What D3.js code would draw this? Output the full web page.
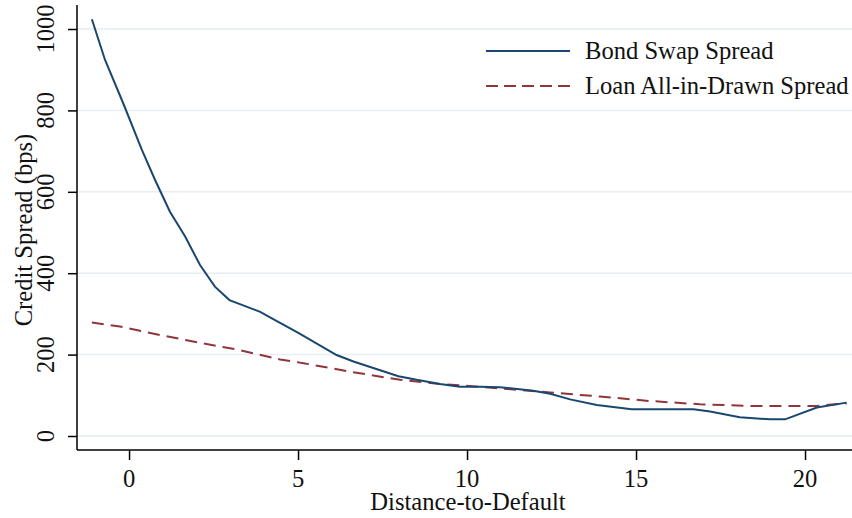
<!DOCTYPE html>
<html>
<head>
<meta charset="utf-8">
<script src="https://cdn.jsdelivr.net/npm/d3@7"></script>
<style>
  body { margin: 0; background: #fff; }
  svg text { font-family: "Liberation Serif", "Times New Roman", serif; fill: #111; }
</style>
</head>
<body>
<svg id="chart" width="852" height="518"></svg>
<script>
// values
var bondX = [-1.10, -0.71, -0.17, 0.38, 0.77, 1.21, 1.66, 2.10, 2.54, 2.97, 3.88, 4.32, 4.86, 5.06, 6.14, 6.64, 7.97, 8.51, 9.20, 9.79, 10.38, 10.97, 11.96, 12.46, 13.05, 13.84, 14.87, 16.70, 17.19, 18.07, 18.96, 19.41, 20.35, 21.23]
var bondY = [1024, 924, 817, 703, 629, 551, 490, 420, 367, 334, 305, 285, 260, 251, 199, 183, 147, 138, 128, 121, 121, 120, 111, 104, 90, 76, 66, 66, 60, 46, 41, 41, 70, 82]

var loanX = [-1.10, -0.27, 0.92, 2.10, 3.28, 4.47, 5.16, 6.54, 8.02, 9.20, 10.38, 12.46, 13.93, 15.41, 16.89, 18.37, 20.33, 21.23]
var loanY = [279, 269, 248, 229, 211, 188, 179, 158, 138, 128, 121, 107, 97, 86, 78, 74, 74, 80]

var xTicks = [0, 5, 10, 15, 20]
var yTicks = [0, 200, 400, 600, 800, 1000]
var seriesNames = ['Bond Swap Spread', 'Loan All-in-Drawn Spread']
var seriesColors = ['#1a476f', '#90353b']

var svg = d3.select('#chart')
var plotLeft = 77, plotRight = 852, plotTop = 5, plotBottom = 450
var fs = 24.6

var x = d3.scaleLinear().domain([-1.54, 21.39]).range([plotLeft, plotRight])
var y = d3.scaleLinear().domain([-34.4, 1059]).range([plotBottom, plotTop])

// gridlines
svg.append('g')
  .selectAll('line')
  .data(yTicks)
  .enter()
  .append('line')
  .attr('x1', plotLeft)
  .attr('x2', plotRight)
  .attr('y1', d => y(d))
  .attr('y2', d => y(d))
  .attr('stroke', '#e6eef1')
  .attr('stroke-width', 1.5)

// y axis
var yAxis = svg.append('g')
  .attr('transform', 'translate(' + plotLeft + ',0)')
  .call(d3.axisLeft(y).tickValues(yTicks).tickSize(9).tickFormat(''))
yAxis.selectAll('path, line').attr('stroke', '#000').attr('stroke-width', 1.5)
yAxis.select('.domain').attr('d', 'M0,' + plotTop + 'V' + plotBottom)

svg.append('g')
  .selectAll('text')
  .data(yTicks)
  .enter()
  .append('text')
  .attr('transform', d => 'translate(54,' + y(d) + ') rotate(-90)')
  .attr('text-anchor', 'middle')
  .style('font-size', fs + 'px')
  .text(d => d)

// x axis
var xAxis = svg.append('g')
  .attr('transform', 'translate(0,' + plotBottom + ')')
  .call(d3.axisBottom(x).tickValues(xTicks).tickSize(10).tickFormat(''))
xAxis.selectAll('path, line').attr('stroke', '#000').attr('stroke-width', 1.5)
xAxis.select('.domain').attr('d', 'M' + plotLeft + ',0H' + plotRight)

svg.append('g')
  .selectAll('text')
  .data(xTicks)
  .enter()
  .append('text')
  .attr('x', d => x(d))
  .attr('y', 487)
  .attr('text-anchor', 'middle')
  .style('font-size', fs + 'px')
  .text(d => d)

// axis titles
svg.append('text')
  .attr('x', 468)
  .attr('y', 510)
  .attr('text-anchor', 'middle')
  .style('font-size', fs + 'px')
  .text('Distance-to-Default')

svg.append('text')
  .attr('transform', 'translate(32,230) rotate(-90)')
  .attr('text-anchor', 'middle')
  .style('font-size', fs + 'px')
  .text('Credit Spread (bps)')

// lines
var line = d3.line()
  .x(d => x(d[0]))
  .y(d => y(d[1]))

var bond = d3.zip(bondX, bondY)
var loan = d3.zip(loanX, loanY)

svg.append('path')
  .datum(loan)
  .attr('d', line)
  .attr('fill', 'none')
  .attr('stroke', seriesColors[1])
  .attr('stroke-width', 2)
  .attr('stroke-dasharray', '12,7')

svg.append('path')
  .datum(bond)
  .attr('d', line)
  .attr('fill', 'none')
  .attr('stroke', seriesColors[0])
  .attr('stroke-width', 2)

// legend
var legend = svg.append('g')
legend.append('rect')
  .attr('x', 472).attr('y', 32).attr('width', 380).attr('height', 75)
  .attr('fill', '#fff')
var rows = legend.selectAll('.row')
  .data(seriesNames)
  .enter()
  .append('g')
  .attr('class', 'row')
  .attr('transform', (d, i) => 'translate(0,' + (51 + i * 35) + ')')
rows.append('line')
  .attr('x1', 486).attr('x2', 570)
  .attr('stroke', (d, i) => seriesColors[i])
  .attr('stroke-width', 2)
  .attr('stroke-dasharray', (d, i) => i === 1 ? '12,6' : null)
rows.append('text')
  .attr('x', 585)
  .attr('y', 8)
  .style('font-size', fs + 'px')
  .text(d => d)
</script>
</body>
</html>
